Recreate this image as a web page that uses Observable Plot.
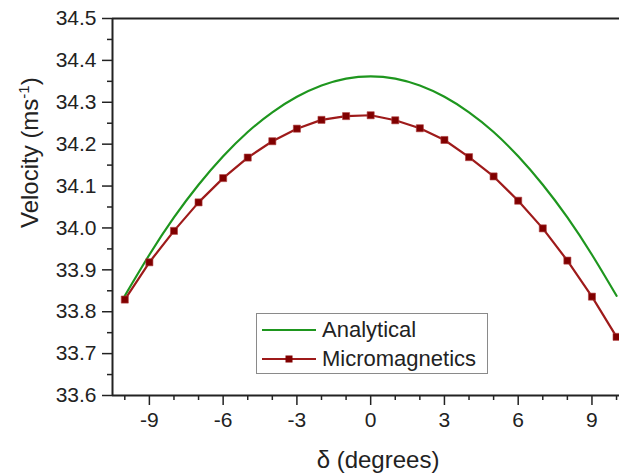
<!DOCTYPE html>
<html><head><meta charset="utf-8">
<script src="https://cdn.jsdelivr.net/npm/d3@7"></script>
<script src="https://cdn.jsdelivr.net/npm/@observablehq/plot@0.6"></script>
<style>
body{margin:0;background:#fff;}
#wrap{position:relative;width:619px;height:475px;overflow:hidden;font-family:"Liberation Sans",Arial,sans-serif;color:#222;}
#legend{position:absolute;left:256px;top:313px;width:230px;height:59px;border:1px solid #8a8a8a;background:#fff;}
#legend .row{position:absolute;left:0;height:28px;width:230px;}
#legend svg{position:absolute;left:5px;top:0;}
#legend span{position:absolute;left:65px;top:1px;font-size:22px;line-height:26px;white-space:nowrap;}
</style></head><body><div id="wrap"></div>
<script>
const delta = [-10,-9,-8,-7,-6,-5,-4,-3,-2,-1,0,1,2,3,4,5,6,7,8,9,10];
const analytical = [33.838,33.936,34.025,34.103,34.171,34.229,34.276,34.313,34.340,34.3565,34.362,34.3565,34.340,34.313,34.276,34.229,34.171,34.103,34.025,33.936,33.838];
const micromagnetics = [33.829,33.918,33.993,34.061,34.119,34.168,34.207,34.237,34.258,34.267,34.269,34.257,34.238,34.210,34.169,34.123,34.065,33.999,33.922,33.836,33.740];
const seriesNames = ["Analytical","Micromagnetics"];
const seriesColors = ["#1e961e","#9e1a1a"];
const markerColor = "#800000";
const xDomain = [-10.5, 10.12];
const yDomain = [33.6, 34.5];
const xMajorTicks = [-9,-6,-3,0,3,6,9];
const xMinorTicks = [-10,-8,-7,-5,-4,-2,-1,1,2,4,5,7,8,10];
const yMajorTicks = [33.6,33.7,33.8,33.9,34.0,34.1,34.2,34.3,34.4,34.5];
const yMinorTicks = [33.65,33.75,33.85,33.95,34.05,34.15,34.25,34.35,34.45];
const xTitle = "δ (degrees)";
const yTitle = "Velocity (ms-1)";

const dataA = delta.map((d,i)=>({x:d, v:analytical[i]}));
const dataM = delta.map((d,i)=>({x:d, v:micromagnetics[i]}));

const plot = Plot.plot({
  width: 619, height: 475,
  marginLeft: 112, marginRight: 0, marginTop: 18, marginBottom: 80,
  x: {domain: xDomain},
  y: {domain: yDomain},
  style: {fontFamily: "Liberation Sans, Arial, sans-serif", color: "#222", background: "transparent", overflow: "visible"},
  marks: [
    Plot.axisY(yMajorTicks, {tickSize: 10, tickPadding: 6, fontSize: 21, strokeWidth: 1.5, tickFormat: d => d.toFixed(1), label: null}),
    Plot.axisY(yMinorTicks, {tickSize: 5, strokeWidth: 1.5, tickFormat: () => "", label: null}),
    Plot.axisX(xMajorTicks, {tickSize: 10, tickPadding: 7, fontSize: 21, strokeWidth: 1.5, tickFormat: d => String(d), label: null}),
    Plot.axisX(xMinorTicks, {tickSize: 5, strokeWidth: 1.5, tickFormat: () => "", label: null}),
    Plot.ruleX([xDomain[0]], {stroke: "#222", strokeWidth: 2}),
    Plot.ruleY([yDomain[0]], {stroke: "#222", strokeWidth: 2}),
    Plot.ruleY([yDomain[1]], {stroke: "#222", strokeWidth: 2}),
    Plot.line(dataA, {x: "x", y: "v", stroke: seriesColors[0], strokeWidth: 2.2, curve: "natural"}),
    Plot.line(dataM, {x: "x", y: "v", stroke: seriesColors[1], strokeWidth: 2.2}),
    Plot.dot(dataM, {x: "x", y: "v", symbol: "square", r: 4, fill: markerColor, stroke: "#b04040", strokeWidth: 0.6}),
    Plot.text([xTitle], {text: d => d, frameAnchor: "bottom", dx: 12, dy: 65, fontSize: 24, lineAnchor: "middle", fill: "#222"}),
    Plot.text([yTitle], {text: d => d, frameAnchor: "left", rotate: -90, dx: -82, dy: 21, fontSize: 24, lineAnchor: "middle", fill: "#222"})
  ]
});
const wrap = document.getElementById("wrap");
wrap.appendChild(plot);
// superscript in y title
plot.querySelectorAll("text").forEach(t => {
  if (t.textContent === yTitle) {
    t.innerHTML = 'Velocity (ms<tspan dy="-9" font-size="15">-1</tspan><tspan dy="9">)</tspan>';
  }
});
// legend
const legend = document.createElement("div");
legend.id = "legend";
seriesNames.forEach((name, i) => {
  const row = document.createElement("div");
  row.className = "row";
  row.style.top = (i === 0 ? 2 : 31) + "px";
  const s = d3.create("svg").attr("width", 56).attr("height", 28);
  s.append("line").attr("x1", 0).attr("x2", 54).attr("y1", 14).attr("y2", 14)
    .attr("stroke", seriesColors[i]).attr("stroke-width", 2.2);
  if (i === 1) s.append("rect").attr("x", 23.5).attr("y", 10.5).attr("width", 7).attr("height", 7).attr("fill", markerColor);
  row.appendChild(s.node());
  const sp = document.createElement("span");
  sp.textContent = name;
  row.appendChild(sp);
  legend.appendChild(row);
});
wrap.appendChild(legend);
</script></body></html>
